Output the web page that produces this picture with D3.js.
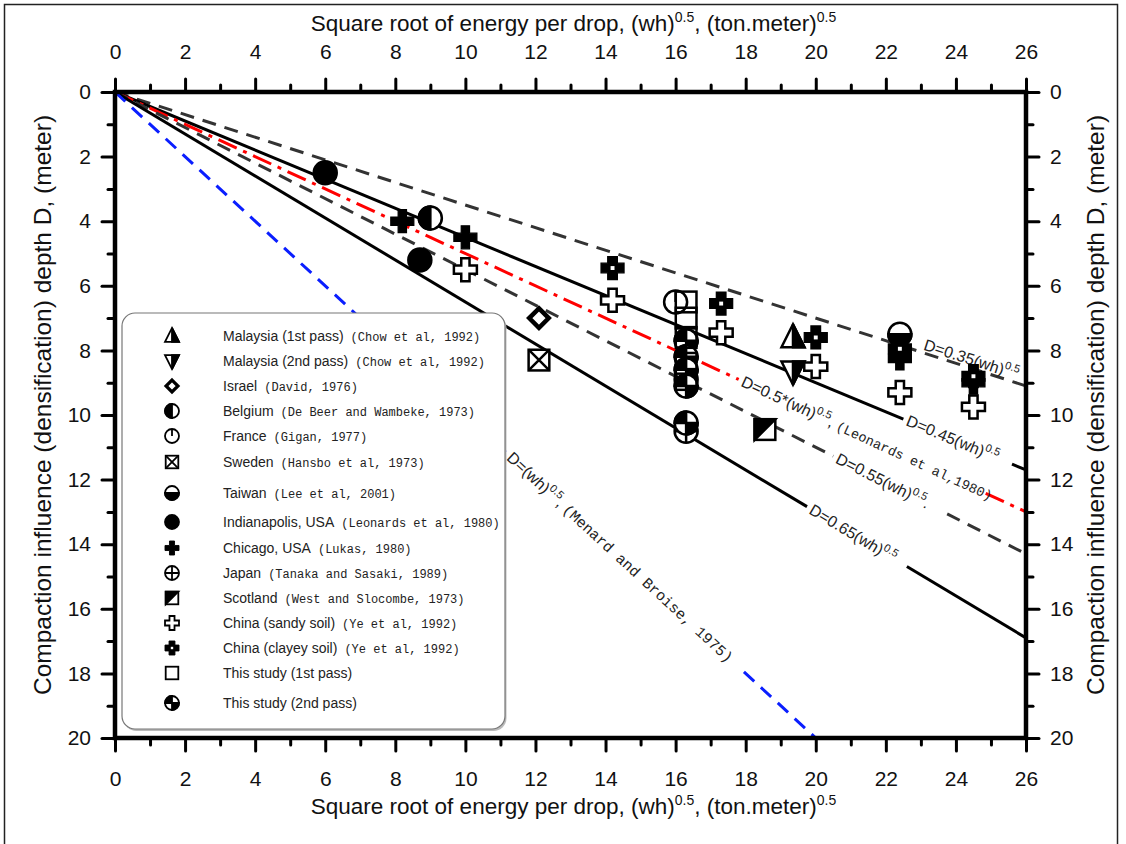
<!DOCTYPE html>
<html>
<head>
<meta charset="utf-8">
<title>Compaction influence depth vs square root of energy per drop</title>
<style>
  body { margin: 0; background: #fff; }
  svg text { font-family: "Liberation Sans", Arial, sans-serif; fill: #111; }
  .mono { font-family: "Liberation Mono", "Courier New", monospace; }
</style>
</head>
<body>
<script src="https://cdn.jsdelivr.net/npm/d3@7/dist/d3.min.js"></script>
<script>
// values, each point is [sqrt(wh), D]
var malaysia1 = [[19.35, 7.6]];
var malaysia2 = [[19.35, 8.65]];
var israel = [[12.1, 7.0]];
var belgium = [[9.0, 3.9]];
var france = [[16.0, 6.5]];
var sweden = [[12.1, 8.3]];
var taiwan = [[22.4, 7.5]];
var indianapolis = [[6.0, 2.5], [8.7, 5.2]];
var chicago = [[8.2, 4.0], [10.0, 4.5], [22.4, 8.25], [24.5, 9.0]];
var japan = [[16.3, 8.9], [16.3, 10.5]];
var scotland = [[18.55, 10.45]];
var chinaSandy = [[10.0, 5.5], [14.2, 6.45], [17.3, 7.45], [20.0, 8.5], [22.4, 9.3], [24.5, 9.75]];
var chinaClayey = [[14.2, 5.45], [17.3, 6.55], [20.0, 7.6], [22.4, 7.95], [24.5, 8.8]];
var study1 = [[16.3, 6.5], [16.3, 7.0], [16.3, 7.6], [16.3, 8.4], [16.3, 8.9]];
var study2 = [[16.3, 7.7], [16.3, 8.2], [16.3, 8.6], [16.3, 9.1], [16.3, 10.25]];

var seriesNames = ["Malaysia (1st pass)", "Malaysia (2nd pass)", "Israel", "Belgium", "France", "Sweden",
  "Taiwan", "Indianapolis, USA", "Chicago, USA", "Japan", "Scotland", "China (sandy soil)",
  "China (clayey soil)", "This study (1st pass)", "This study (2nd pass)"];
var citations = ["(Chow et al, 1992)", "(Chow et al, 1992)", "(David, 1976)", "(De Beer and Wambeke, 1973)",
  "(Gigan, 1977)", "(Hansbo et al, 1973)", "(Lee et al, 2001)", "(Leonards et al, 1980)", "(Lukas, 1980)",
  "(Tanaka and Sasaki, 1989)", "(West and Slocombe, 1973)", "(Ye et al, 1992)", "(Ye et al, 1992)", "", ""];
var seriesData = [malaysia1, malaysia2, israel, belgium, france, sweden, taiwan, indianapolis,
  chicago, japan, scotland, chinaSandy, chinaClayey, study1, study2];
var symbolTypes = ["triUp", "triDown", "diamond", "halfLeft", "france", "boxX", "halfBottom", "dot",
  "cross", "circlePlus", "halfSquare", "crossOpen", "crossDot", "square", "quarters"];

// relations D = n (wh)^0.5
var coefs = [0.35, 0.45, 0.5, 0.55, 0.65, 1.0];
var xTicks = d3.range(0, 27, 2);
var yTicks = d3.range(0, 21, 2);

// ---------------------------------------------------------------
var W = 1126, H = 844;
var svg = d3.select("body").append("svg").attr("width", W).attr("height", H);

var x = d3.scaleLinear().domain([0, 26]).range([115, 1026]);
var y = d3.scaleLinear().domain([0, 20]).range([92, 738]);

// outer frame of the figure
svg.append("rect").attr("x", 4.5).attr("y", 4.5).attr("width", 1113).attr("height", 860)
  .attr("fill", "none").attr("stroke", "#222").attr("stroke-width", 1.5);

// line styles + where each line is broken for its label (data x)
var lineStyle = [
  {color: "#333", dash: "14,9", gap: null, labelAt: 23.03, off: -3},
  {color: "#000", dash: null, gap: [22.5, 25.6], labelAt: 22.6, off: 5},
  {color: "#f00", dash: "20,7,4,7", gap: [17.8, 24.85], labelAt: 17.9, off: 5},
  {color: "#333", dash: "14,9", gap: [20.5, 23.75], labelAt: 20.6, off: 5},
  {color: "#000", dash: null, gap: [19.75, 22.6], labelAt: 19.85, off: 5},
  {color: "#0a1eff", dash: "14,9", gap: [11.15, 17.95], labelAt: 11.25, off: 5}
];
var lineLabels = [
  [{t: "D=0.35(wh)"}, {t: "0.5", sup: true}],
  [{t: "D=0.45(wh)"}, {t: "0.5", sup: true}],
  [{t: "D=0.5*(wh)"}, {t: "0.5", sup: true}, {t: ", "}, {t: "(Leonards et al,1980)", mono: 13.5}],
  [{t: "D=0.55(wh)"}, {t: "0.5", sup: true}, {t: "."}],
  [{t: "D=0.65(wh)"}, {t: "0.5", sup: true}],
  [{t: "D=(wh)"}, {t: "0.5", sup: true}, {t: ", "}, {t: "(Menard and Broise, 1975)", mono: 15}]
];

var line = d3.line().x(function (d) { return x(d[0]); }).y(function (d) { return y(d[1]); });
var gLines = svg.append("g").attr("id", "lines");

coefs.forEach(function (k, i) {
  var st = lineStyle[i];
  var xEnd = Math.min(26, 20 / k);
  var segs = st.gap ? [[0, st.gap[0]], [st.gap[1], xEnd]] : [[0, xEnd]];
  segs.forEach(function (s) {
    gLines.append("path")
      .attr("d", line([[s[0], k * s[0]], [s[1], k * s[1]]]))
      .attr("fill", "none")
      .attr("stroke", st.color)
      .attr("stroke-width", 3)
      .attr("stroke-dasharray", st.dash);
  });
  var ang = Math.atan2(y(k) - y(0), x(1) - x(0)) * 180 / Math.PI;
  var t = gLines.append("text")
    .attr("transform", "translate(" + x(st.labelAt) + "," + y(k * st.labelAt) + ") rotate(" + ang + ")")
    .attr("y", st.off)
    .attr("font-size", 16)
    .style("fill", "#222");
  lineLabels[i].forEach(function (p, j) {
    var ts = t.append("tspan").text(p.t);
    if (p.sup) ts.attr("font-size", 11).attr("dy", -7);
    else if (j > 0 && lineLabels[i][j - 1].sup) ts.attr("dy", 7);
    if (p.mono) ts.attr("class", "mono").attr("font-size", p.mono);
  });
});

// symbols
function crossPts(r, a) {
  return [[-a, -r], [a, -r], [a, -a], [r, -a], [r, a], [a, a], [a, r], [-a, r], [-a, a], [-r, a], [-r, -a], [-a, -a]];
}
function drawSymbol(g, type, r, sw) {
  var poly = function (pts, fill) {
    return g.append("polygon").attr("points", pts.map(function (p) { return p.join(","); }).join(" "))
      .attr("fill", fill).attr("stroke", "#000").attr("stroke-width", sw).attr("stroke-linejoin", "miter");
  };
  var circ = function (fill) {
    return g.append("circle").attr("r", r).attr("fill", fill).attr("stroke", "#000").attr("stroke-width", sw);
  };
  var path = function (d, fill) {
    return g.append("path").attr("d", d).attr("fill", fill).attr("stroke", "#000").attr("stroke-width", sw);
  };
  var sq = function (fill) {
    return g.append("rect").attr("x", -h).attr("y", -h).attr("width", 2 * h).attr("height", 2 * h)
      .attr("fill", fill).attr("stroke", "#000").attr("stroke-width", sw);
  };
  var h = r * 0.9;
  switch (type) {
    case "triUp":
      poly([[0, -r * 1.15], [r, r * 0.85], [-r, r * 0.85]], "#fff");
      poly([[0, -r * 1.15], [r, r * 0.85], [0, r * 0.85]], "#000");
      break;
    case "triDown":
      poly([[0, r * 1.15], [r, -r * 0.85], [-r, -r * 0.85]], "#fff");
      poly([[0, r * 1.15], [r, -r * 0.85], [0, -r * 0.85]], "#000");
      break;
    case "diamond":
      poly([[0, -r * 0.85], [r * 0.85, 0], [0, r * 0.85], [-r * 0.85, 0]], "#fff").attr("stroke-width", sw * 1.8);
      break;
    case "halfLeft":
      circ("#fff");
      path("M0," + (-r) + "A" + r + "," + r + " 0 0 0 0," + r + "Z", "#000");
      break;
    case "france":
      circ("#fff");
      path("M0," + (-r) + "L0,0", "none");
      break;
    case "boxX":
      sq("#fff");
      path("M" + (-h) + "," + (-h) + "L" + h + "," + h + "M" + h + "," + (-h) + "L" + (-h) + "," + h, "none");
      break;
    case "halfBottom":
      circ("#fff");
      path("M" + (-r) + ",0A" + r + "," + r + " 0 0 0 " + r + ",0Z", "#000");
      break;
    case "dot":
      circ("#000");
      break;
    case "cross":
      poly(crossPts(r, r * 0.36), "#000").attr("stroke-width", sw * 0.5);
      break;
    case "circlePlus":
      circ("#fff");
      path("M0," + (-r) + "V" + r + "M" + (-r) + ",0H" + r, "none");
      break;
    case "halfSquare":
      sq("#fff");
      poly([[-h, -h], [h, -h], [-h, h]], "#000");
      break;
    case "crossOpen":
      poly(crossPts(r, r * 0.36), "#fff");
      break;
    case "crossDot":
      poly(crossPts(r, r * 0.42), "#000").attr("stroke-width", sw * 0.5);
      g.append("rect").attr("x", -r * 0.17).attr("y", -r * 0.17).attr("width", r * 0.34).attr("height", r * 0.34)
        .attr("fill", "#fff");
      break;
    case "square":
      sq("none");
      break;
    case "quarters":
      circ("#fff");
      path("M0,0V" + (-r) + "A" + r + "," + r + " 0 0 0 " + (-r) + ",0Z", "#000");
      path("M0,0V" + r + "A" + r + "," + r + " 0 0 0 " + r + ",0Z", "#000");
      break;
  }
}

// data points (open squares of this study drawn last so they frame the circles)
var drawOrder = [0, 1, 2, 3, 4, 5, 6, 7, 8, 9, 10, 11, 12, 14, 13];
var gPts = svg.append("g").attr("id", "points");
drawOrder.forEach(function (i) {
  gPts.append("g").attr("class", "series")
    .selectAll("g")
    .data(seriesData[i])
    .enter().append("g")
    .attr("transform", function (d) { return "translate(" + x(d[0]) + "," + y(d[1]) + ")"; })
    .each(function () { drawSymbol(d3.select(this), symbolTypes[i], 11.5, 2.5); });
});

// axes: major (labelled, every 2) and minor (every 1) ticks on all four sides
function styleAxis(g) {
  g.select(".domain").remove();
  g.selectAll(".tick line").attr("stroke", "#000").attr("stroke-width", 3).attr("stroke-linecap", "round");
  g.selectAll(".tick text").attr("font-size", 21).attr("font-family", "Liberation Sans, Arial, sans-serif").style("fill", "#111");
}
var minorX = d3.range(1, 26, 2), minorY = d3.range(1, 20, 2);

svg.append("g").attr("transform", "translate(0," + y(0) + ")")
  .call(d3.axisTop(x).tickValues(xTicks).tickSize(13).tickPadding(20)).call(styleAxis);
svg.append("g").attr("transform", "translate(0," + y(0) + ")")
  .call(d3.axisTop(x).tickValues(minorX).tickSize(7).tickFormat("")).call(styleAxis);
svg.append("g").attr("transform", "translate(0," + y(20) + ")")
  .call(d3.axisBottom(x).tickValues(xTicks).tickSize(13).tickPadding(20)).call(styleAxis);
svg.append("g").attr("transform", "translate(0," + y(20) + ")")
  .call(d3.axisBottom(x).tickValues(minorX).tickSize(7).tickFormat("")).call(styleAxis);
svg.append("g").attr("transform", "translate(" + x(0) + ",0)")
  .call(d3.axisLeft(y).tickValues(yTicks).tickSize(13).tickPadding(11)).call(styleAxis);
svg.append("g").attr("transform", "translate(" + x(0) + ",0)")
  .call(d3.axisLeft(y).tickValues(minorY).tickSize(7).tickFormat("")).call(styleAxis);
svg.append("g").attr("transform", "translate(" + x(26) + ",0)")
  .call(d3.axisRight(y).tickValues(yTicks).tickSize(13).tickPadding(11)).call(styleAxis);
svg.append("g").attr("transform", "translate(" + x(26) + ",0)")
  .call(d3.axisRight(y).tickValues(minorY).tickSize(7).tickFormat("")).call(styleAxis);

// plot frame
svg.append("rect").attr("x", x(0)).attr("y", y(0)).attr("width", x(26) - x(0)).attr("height", y(20) - y(0))
  .attr("fill", "none").attr("stroke", "#000").attr("stroke-width", 4.5);

// axis titles
function xTitle(yPos) {
  var t = svg.append("text").attr("x", (x(0) + x(26)) / 2 + 3).attr("y", yPos)
    .attr("text-anchor", "middle").attr("font-size", 22.5);
  t.append("tspan").text("Square root of energy per drop, (wh)");
  t.append("tspan").text("0.5").attr("font-size", 14).attr("dy", -9);
  t.append("tspan").text(", (ton.meter)").attr("dy", 9);
  t.append("tspan").text("0.5").attr("font-size", 14).attr("dy", -9);
}
xTitle(31);
xTitle(814);

function yTitle(xPos) {
  svg.append("text")
    .attr("transform", "translate(" + xPos + "," + ((y(0) + y(20)) / 2 - 10) + ") rotate(-90)")
    .attr("text-anchor", "middle").attr("font-size", 24.5)
    .text("Compaction influence (densification) depth D, (meter)");
}
yTitle(51);
yTitle(1104);

// legend
var lgX = 122, lgY = 313, lgW = 383, lgH = 416;
var rowOffsets = [23, 48, 73, 98, 123, 149, 180, 209, 235, 260, 285, 310, 335, 360, 390];
var gLeg = svg.append("g").attr("id", "legend");
gLeg.append("rect").attr("x", lgX + 1.5).attr("y", lgY + 2).attr("width", lgW).attr("height", lgH)
  .attr("rx", 13).attr("fill", "#bbb");
gLeg.append("rect").attr("x", lgX).attr("y", lgY).attr("width", lgW).attr("height", lgH)
  .attr("rx", 13).attr("fill", "#fff").attr("stroke", "#777").attr("stroke-width", 1.2);

seriesNames.forEach(function (name, i) {
  var cy = lgY + rowOffsets[i];
  var g = gLeg.append("g").attr("transform", "translate(172," + cy + ")");
  drawSymbol(g, symbolTypes[i], 7, 1.8);
  var t = gLeg.append("text").attr("x", 223).attr("y", cy + 5).attr("font-size", 14)
    .style("fill", "#222");
  t.append("tspan").text(name);
  if (citations[i]) {
    t.append("tspan").attr("class", "mono").attr("font-size", 12).attr("dx", 7).text(citations[i]);
  }
});
</script>
</body>
</html>
